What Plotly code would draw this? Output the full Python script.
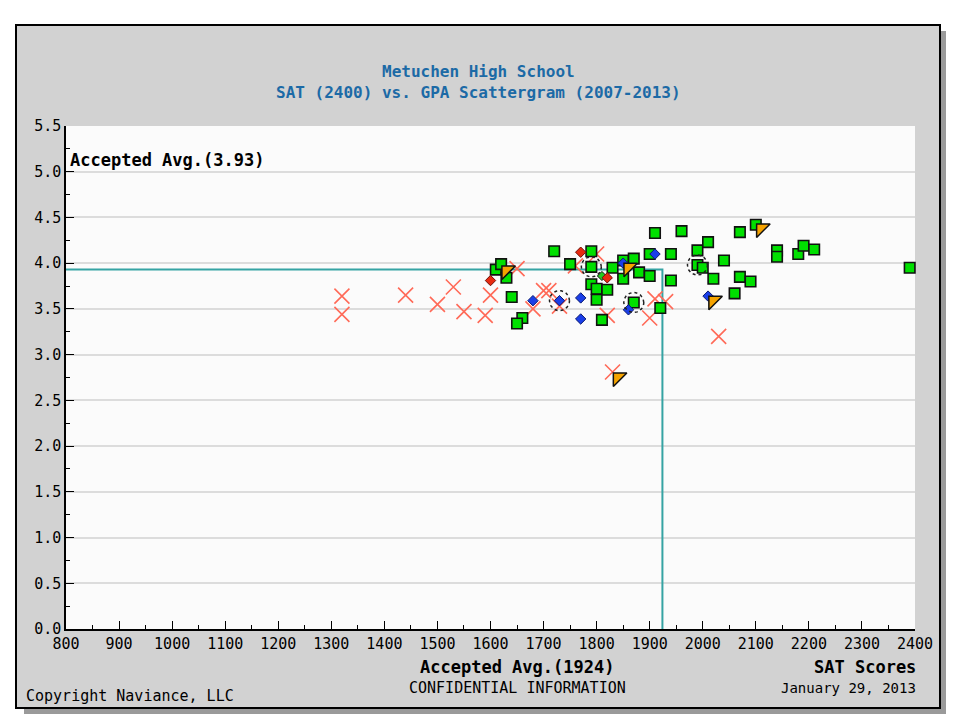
import numpy as np
import plotly.graph_objects as go

# ---------------- data (SAT 2400 scale, GPA) ----------------
acc_sat = [1610, 1620, 1630, 1640, 1660, 1650, 1720, 1750, 1790, 1790, 1830, 1850, 1870, 1850, 1880, 1900,
           1940, 1900, 1940, 1790, 1800, 1820, 1800, 1870, 1920, 1810, 1910, 1960, 1990, 2010, 2040, 1990,
           2000, 2020, 2070, 2090, 2060, 2070, 2100, 2140, 2140, 2180, 2190, 2210, 2390]
acc_gpa = [3.93, 3.99, 3.84, 3.63, 3.40, 3.34, 4.13, 3.99, 4.13, 3.96, 3.95, 4.03, 4.05, 3.83, 3.90, 3.86,
           3.81, 4.10, 4.10, 3.77, 3.72, 3.71, 3.60, 3.57, 3.51, 3.38, 4.33, 4.35, 4.14, 4.23, 4.03, 3.98,
           3.95, 3.83, 3.85, 3.80, 3.67, 4.34, 4.42, 4.14, 4.07, 4.10, 4.19, 4.15, 3.95]

den_sat = [1320, 1320, 1440, 1500, 1530, 1550, 1590, 1600, 1650, 1700, 1710, 1680, 1730, 1760, 1800,
           1820, 1910, 1930, 1900, 2030, 1830]
den_gpa = [3.64, 3.44, 3.65, 3.55, 3.74, 3.47, 3.43, 3.65, 3.94, 3.70, 3.70, 3.50, 3.53, 3.97, 4.10,
           3.43, 3.61, 3.58, 3.40, 3.20, 2.81]

wl_sat = [1680, 1730, 1770, 1770, 1860, 1910, 1850, 2010]
wl_gpa = [3.59, 3.59, 3.62, 3.39, 3.49, 4.10, 4.00, 3.64]

wld_sat = [1600, 1770, 1820]
wld_gpa = [3.81, 4.12, 3.84]

wla_sat = [1630, 1860, 1840, 2020, 2110]
wla_gpa = [3.92, 3.95, 2.75, 3.59, 4.38]

other_sat = [1810]
other_gpa = [3.86]

circ_sat = [1790, 1730, 1870, 1990]
circ_gpa = [3.96, 3.59, 3.57, 3.98]

avg_sat = 1924
avg_gpa = 3.93

x_range = [800, 2400]
y_range = [0, 5.5]

# ---------------- layout geometry ----------------
OFF = 8                      # page offset of the figure in the browser window
W, H = 964 - OFF, 723 - OFF
ML, MR, MT, MB = 66 - OFF, 49, 126 - OFF, 94
PW, PH = W - ML - MR, H - MT - MB


def px(X):
    return (X - OFF - ML) / PW


def py(Y):
    return (H - MB - (Y - OFF)) / PH


MONO = "DejaVu Sans Mono"

fig = go.Figure()

# accepted-average guide lines
fig.add_trace(go.Scatter(x=[x_range[0], avg_sat, avg_sat], y=[avg_gpa, avg_gpa, y_range[0]],
                         mode="lines", line=dict(color="#35a3a3", width=2), hoverinfo="skip"))

# denied
fig.add_trace(go.Scatter(x=den_sat, y=den_gpa, mode="markers", name="Denied", cliponaxis=False,
                         marker=dict(symbol="x-thin", size=15, line=dict(color="#ff6a58", width=1.6))))
# accepted
fig.add_trace(go.Scatter(x=acc_sat, y=acc_gpa, mode="markers", name="Accepted", cliponaxis=False,
                         marker=dict(symbol="square", size=10.5, color="#00e000",
                                     line=dict(color="#111111", width=1.6))))
# other
fig.add_trace(go.Scatter(x=other_sat, y=other_gpa, mode="markers", name="Other", cliponaxis=False,
                         marker=dict(symbol="diamond", size=7, color="#22cc22",
                                     line=dict(color="#111111", width=1))))
# waitlisted
fig.add_trace(go.Scatter(x=wl_sat, y=wl_gpa, mode="markers", name="Waitlisted", cliponaxis=False,
                         marker=dict(symbol="diamond", size=8, color="#1a3ee8",
                                     line=dict(color="#0a1a70", width=1))))
# waitlisted, denied
fig.add_trace(go.Scatter(x=wld_sat, y=wld_gpa, mode="markers", name="Waitlisted/Denied", cliponaxis=False,
                         marker=dict(symbol="diamond", size=8, color="#e82a10",
                                     line=dict(color="#701008", width=1))))
# waitlisted, accepted
fig.add_trace(go.Scatter(x=wla_sat, y=wla_gpa, mode="markers", name="Waitlisted/Accepted", cliponaxis=False,
                         marker=dict(symbol="triangle-nw", size=15, color="#f5a300",
                                     line=dict(color="#111111", width=1.5))))

# dashed circles around highlighted points
rx = 10 * (x_range[1] - x_range[0]) / PW
ry = 10 * (y_range[1] - y_range[0]) / PH
t = np.linspace(0, 2 * np.pi, 37)
for cx, cy in zip(circ_sat, circ_gpa):
    fig.add_trace(go.Scatter(x=cx + rx * np.cos(t), y=cy + ry * np.sin(t), mode="lines",
                             line=dict(color="#222222", width=1.5, dash="dot"),
                             hoverinfo="skip", cliponaxis=False))

shapes = [
    # drop shadow of panel
    dict(type="rect", xref="paper", yref="paper", layer="below",
         x0=px(24), x1=px(946), y0=py(714), y1=py(31),
         fillcolor="#9a9a9a", line=dict(width=0)),
    # grey panel
    dict(type="rect", xref="paper", yref="paper", layer="below",
         x0=px(16), x1=px(940), y0=py(708), y1=py(25),
         fillcolor="#d2d2d2", line=dict(color="#000000", width=2)),
    # plot area
    dict(type="rect", xref="paper", yref="paper", layer="below",
         x0=0, x1=1, y0=0, y1=1, fillcolor="#fbfbfb", line=dict(width=0)),
]

annotations = [
    dict(text="Metuchen High School", x=px(478), y=py(72),
         font=dict(family=MONO, size=16, color="#1c6aa6", weight="bold")),
    dict(text="SAT (2400) vs. GPA Scattergram (2007-2013)", x=px(478), y=py(92),
         font=dict(family=MONO, size=16, color="#1c6aa6", weight="bold")),
    dict(text="Accepted Avg.(3.93)", x=px(68), y=py(160), xanchor="left",
         font=dict(family=MONO, size=17, color="#000000", weight="bold")),
    dict(text="Accepted Avg.(1924)", x=px(517), y=py(667),
         font=dict(family=MONO, size=17, color="#000000", weight="bold")),
    dict(text="CONFIDENTIAL INFORMATION", x=px(517), y=py(688),
         font=dict(family=MONO, size=15, color="#000000")),
    dict(text="SAT Scores", x=px(918), y=py(667), xanchor="right",
         font=dict(family=MONO, size=17, color="#000000", weight="bold")),
    dict(text="January 29, 2013", x=px(918), y=py(688), xanchor="right",
         font=dict(family=MONO, size=14, color="#000000")),
    dict(text="Copyright Naviance, LLC", x=px(24), y=py(696), xanchor="left",
         font=dict(family=MONO, size=15, color="#000000")),
]
for a in annotations:
    a.update(xref="paper", yref="paper", showarrow=False, yanchor="middle")
    a.setdefault("xanchor", "center")

fig.update_layout(
    width=W, height=H,
    margin=dict(l=ML, r=MR, t=MT, b=MB),
    paper_bgcolor="#ffffff", plot_bgcolor="#fbfbfb",
    showlegend=False,
    shapes=shapes, annotations=annotations,
    font=dict(family=MONO, size=15, color="#000000"),
    xaxis=dict(range=x_range, dtick=100, tick0=800, showgrid=False, zeroline=False,
               showline=True, linecolor="#000000", linewidth=1.5,
               ticks="inside", ticklen=8, tickcolor="#000000",
               minor=dict(dtick=50, ticks="inside", ticklen=4, tickcolor="#000000"),
               tickfont=dict(family=MONO, size=15, color="#000000")),
    yaxis=dict(range=y_range, dtick=0.5, tick0=0, tickformat=".1f", showgrid=True,
               gridcolor="#dcdcdc", gridwidth=2, zeroline=False,
               showline=True, linecolor="#000000", linewidth=1.5,
               ticks="inside", ticklen=8, tickcolor="#000000",
               minor=dict(dtick=0.25, ticks="inside", ticklen=4, tickcolor="#000000", showgrid=False),
               tickfont=dict(family=MONO, size=15, color="#000000")),
)

fig.write_html("out.html")
